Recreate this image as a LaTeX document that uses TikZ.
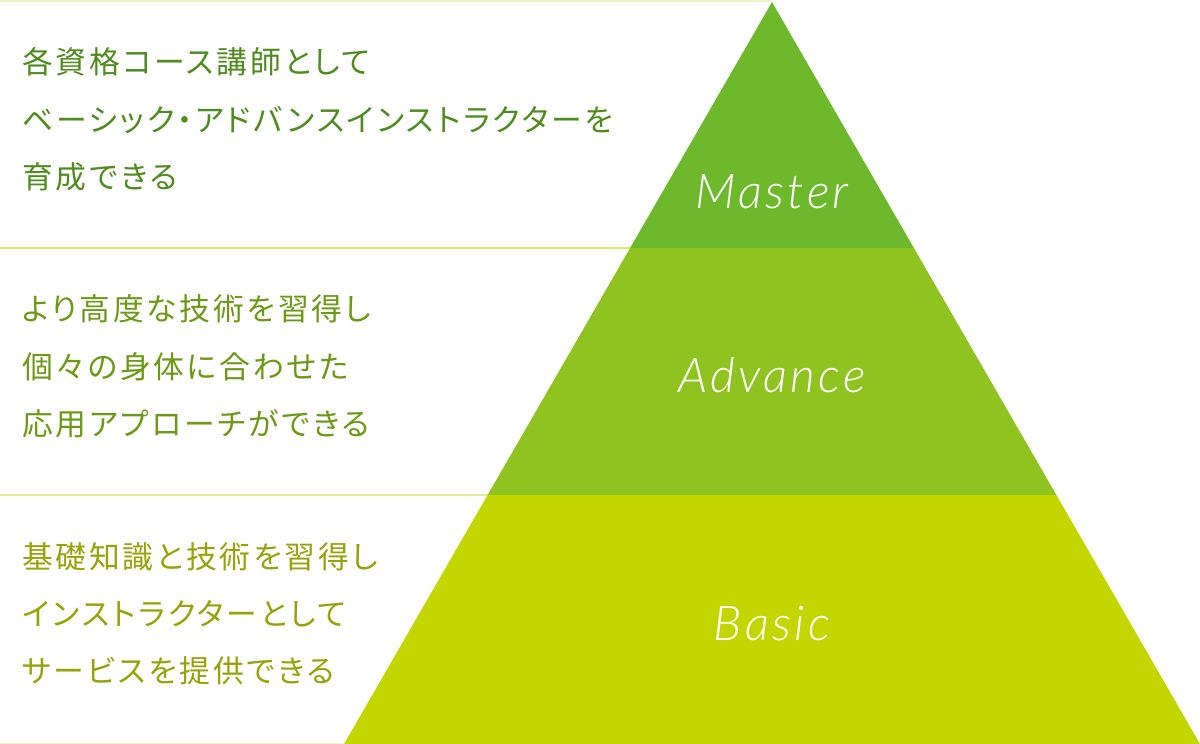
\documentclass[tikz,border=0pt]{standalone}
\usepackage{fontspec}
\newfontfamily\jp{Noto Sans CJK JP}[RawFeature=+palt, LetterSpace=9]
\newfontfamily\labfont{Lato-LightItalic}[Extension=.ttf, LetterSpace=7]
\definecolor{cMaster}{HTML}{6EB92B}
\definecolor{cAdvance}{HTML}{8FC31F}
\definecolor{cBasic}{HTML}{C3D600}
\definecolor{tMaster}{HTML}{4E8C1E}
\definecolor{tAdvance}{HTML}{6C9A16}
\definecolor{tBasic}{HTML}{96A40A}
\definecolor{lTop}{HTML}{EEF2C6}
\definecolor{lMid}{HTML}{DDE76C}
\definecolor{lLow}{HTML}{E3EB99}
\tikzset{
  jptext/.style={anchor=west, inner sep=0pt, font=\jp\fontsize{30.8}{30.8}\selectfont,
    text height=27.1pt, text depth=3.7pt},
  tierlabel/.style={anchor=base, inner sep=0pt, text=white,
    font=\labfont\fontsize{48}{48}\selectfont},
  sepline/.style={line width=1.5pt}
}
\begin{document}
\begin{tikzpicture}[x=1pt,y=-1pt]
\useasboundingbox (0,0) rectangle (1200,744);
\fill[white] (0,0) rectangle (1200,744);
% separator lines
\draw[sepline, lTop] (0,0.8) -- (772,0.8);
\draw[sepline, lMid] (0,248) -- (631,248);
\draw[sepline, lLow] (0,495) -- (488,495);
\draw[sepline, lTop] (0,743.3) -- (345,743.3);
% pyramid tiers
\fill[cMaster] (772,2) -- (913.9,248) -- (630.1,248) -- cycle;
\fill[cAdvance] (630.1,248) -- (913.9,248) -- (1056.4,495) -- (487.6,495) -- cycle;
\fill[cBasic] (487.6,495) -- (1056.4,495) -- (1200,744) -- (344,744) -- cycle;
% tier labels
\node[tierlabel] (lm) at (772,208) {Master};
\node[tierlabel] (la) at (772,392) {Advance};
\node[tierlabel] (lb) at (772,640) {Basic};
% descriptions
\node[jptext, text=tMaster] (m1) at (22,62) {各資格コース講師として};
\node[jptext, text=tMaster] (m2) at (22,120) {ベーシック・アドバンスインストラクターを};
\node[jptext, text=tMaster] (m3) at (22,177) {育成できる};
\node[jptext, text=tAdvance] (a1) at (22,309) {より高度な技術を習得し};
\node[jptext, text=tAdvance] (a2) at (22,367) {個々の身体に合わせた};
\node[jptext, text=tAdvance] (a3) at (22,424) {応用アプローチができる};
\node[jptext, text=tBasic] (b1) at (22,557) {基礎知識と技術を習得し};
\node[jptext, text=tBasic] (b2) at (22,614) {インストラクターとして};
\node[jptext, text=tBasic] (b3) at (22,671) {サービスを提供できる};
\end{tikzpicture}
\end{document}
